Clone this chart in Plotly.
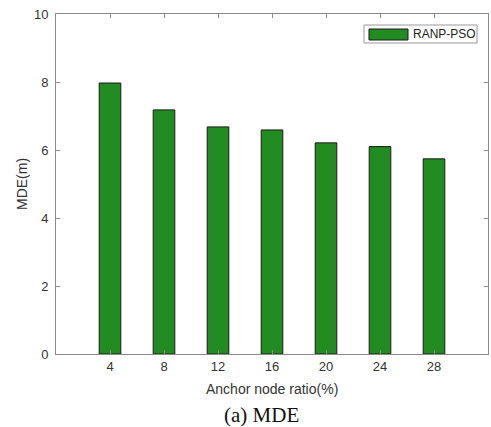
import plotly.graph_objects as go

# Anchor node ratio (%) and mean distance error (m)
ratios = [4, 8, 12, 16, 20, 24, 28]
mde = [7.97, 7.18, 6.68, 6.59, 6.21, 6.10, 5.74]
series_name = "RANP-PSO"
y_ticks = [0, 2, 4, 6, 8, 10]

bar_color = "#228B22"
axis_color = "#8c8c8c"
text_color = "#333333"
sans = "Liberation Sans, Arial, sans-serif"

fig = go.Figure()
fig.add_trace(go.Bar(
    x=ratios, y=mde, width=1.6, name=series_name,
    marker=dict(color=bar_color, line=dict(color="#1a1a1a", width=1)),
    showlegend=False,
))

W, H = 491, 427
L, R, T, B = 56, 3, 14, 73
pw, ph = W - L - R, H - T - B

def px_x(x):
    return (x - L) / pw

def px_y(y):
    return (H - B - y) / ph

fig.update_layout(
    width=W, height=H,
    margin=dict(l=L, r=R, t=T, b=B),
    paper_bgcolor="white", plot_bgcolor="white",
    font=dict(family=sans, color=text_color, size=13),
    xaxis=dict(
        range=[0, 32], tickvals=ratios, ticktext=[str(r) for r in ratios],
        showline=True, linecolor=axis_color, linewidth=1, mirror="ticks",
        ticks="inside", ticklen=4, tickcolor=axis_color,
        showgrid=False, zeroline=False, tickfont=dict(size=13),
    ),
    yaxis=dict(
        range=[0, 10], tickvals=y_ticks,
        showline=True, linecolor=axis_color, linewidth=1, mirror="ticks",
        ticks="inside", ticklen=4, tickcolor=axis_color,
        showgrid=False, zeroline=False, tickfont=dict(size=13),
        ticklabelstandoff=4,
    ),
    shapes=[
        # legend box
        dict(type="rect", xref="paper", yref="paper",
             x0=px_x(364), x1=px_x(477), y0=px_y(43), y1=px_y(25),
             line=dict(color="#999999", width=1), fillcolor="white"),
        # legend swatch
        dict(type="rect", xref="paper", yref="paper",
             x0=px_x(369), x1=px_x(408), y0=px_y(40), y1=px_y(29),
             line=dict(color="#1a1a1a", width=1), fillcolor=bar_color),
    ],
    annotations=[
        dict(text=series_name, xref="paper", yref="paper",
             x=px_x(411), y=px_y(34), xanchor="left", yanchor="middle",
             showarrow=False, font=dict(size=12, color="#222222")),
        dict(text="Anchor node ratio(%)", xref="paper", yref="paper",
             x=px_x(272), y=px_y(389), xanchor="center", yanchor="middle",
             showarrow=False, font=dict(size=14)),
        dict(text="MDE(m)", xref="paper", yref="paper", textangle=-90,
             x=px_x(22), y=px_y(184), xanchor="center", yanchor="middle",
             showarrow=False, font=dict(size=14)),
        dict(text="(a) MDE", xref="paper", yref="paper",
             x=px_x(261), y=px_y(415), xanchor="center", yanchor="middle",
             showarrow=False,
             font=dict(size=21, color="#111111",
                       family="Liberation Serif, Times New Roman, serif")),
    ],
)

fig.write_html("out.html")
